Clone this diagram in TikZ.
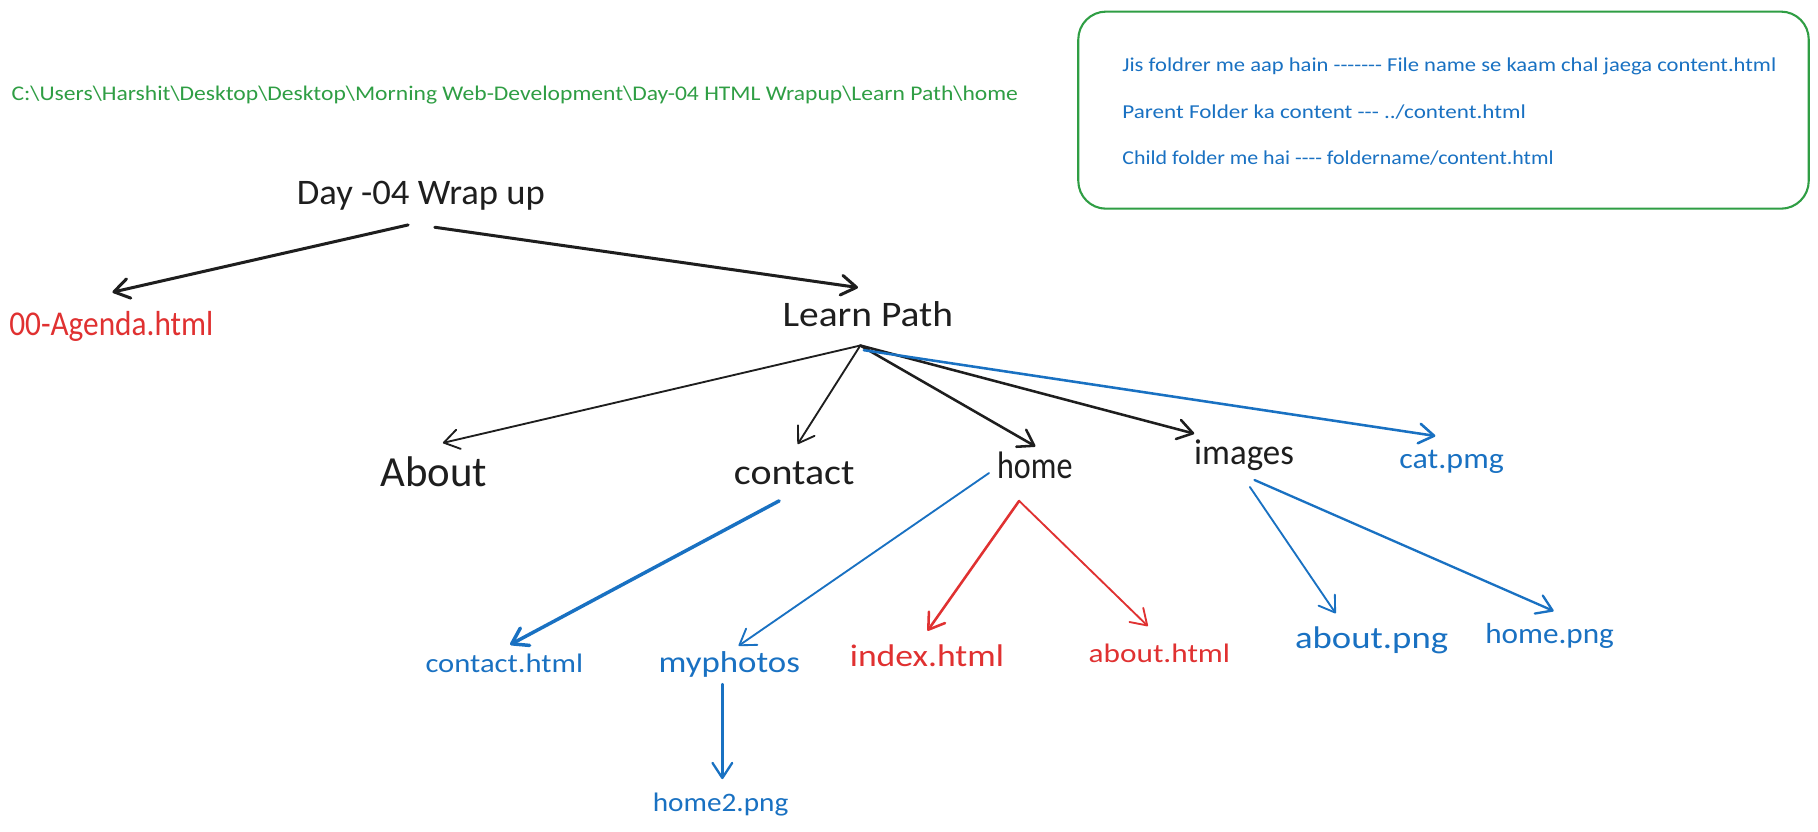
\documentclass[tikz,border=0pt]{standalone}
\usepackage{fontspec}
\setmainfont{Carlito}[Ligatures=TeXOff]
\usetikzlibrary{arrows.meta,calc}
\definecolor{exgreen}{HTML}{2F9E44}
\definecolor{exblue}{HTML}{1971C2}
\definecolor{exred}{HTML}{E03131}
\definecolor{exblack}{HTML}{1E1E1E}
% width in pt, font size in pt, text
\newcommand\fitwh[3]{\resizebox{#1pt}{\height}{\fontsize{#2}{#2}\selectfont #3}}
\tikzset{
  lbl/.style={anchor=base west, inner sep=0pt, outer sep=0pt},
  conn/.style={line cap=round, line join=round, -{Straight Barb[length=13pt,width=17pt,line cap=round,line join=round]}},
}
\begin{document}
\begin{tikzpicture}[x=1pt,y=-1pt]
\useasboundingbox[fill=white] (0,0) rectangle (1568,717);

% path text
\node[lbl, text=exgreen] (path) at (10,87) {\fitwh{868}{18}{C:\textbackslash Users\textbackslash Harshit\textbackslash Desktop\textbackslash Desktop\textbackslash Morning Web-Development\textbackslash Day-04 HTML Wrapup\textbackslash Learn Path\textbackslash home}};

% note box
\draw[exgreen, line width=1.8pt, rounded corners=24pt] (930,10) rectangle (1560,180);
\node[lbl, text=exblue] (l1) at (968,62) {\fitwh{564}{17}{Jis foldrer me aap hain ------- File name se kaam chal jaega content.html}};
\node[lbl, text=exblue] (l2) at (968,102) {\fitwh{348}{17}{Parent Folder ka content --- ../content.html}};
\node[lbl, text=exblue] (l3) at (968,142) {\fitwh{372}{17}{Child folder me hai ---- foldername/content.html}};

% tree nodes
\node[lbl, text=exblack] (day) at (256,176) {\fitwh{214}{31}{Day -04 Wrap up}};
\node[lbl, text=exred] (agenda) at (8,289) {\fitwh{176}{30}{00-Agenda.html}};
\node[lbl, text=exblack] (lp) at (675,282) {\fitwh{147}{31}{Learn Path}};
\node[lbl, text=exblack] (about) at (328,420) {\fitwh{92}{37}{About}};
\node[lbl, text=exblack] (contact) at (633,418) {\fitwh{104}{31}{contact}};
\node[lbl, text=exblack] (home) at (860,413) {\fitwh{65}{33}{home}};
\node[lbl, text=exblack] (images) at (1030,401) {\fitwh{86}{31}{images}};
\node[lbl, text=exblue] (cat) at (1207,404) {\fitwh{90}{25}{cat.pmg}};
\node[lbl, text=exblue] (chtml) at (367,580) {\fitwh{136}{23}{contact.html}};
\node[lbl, text=exblue] (myph) at (568,580) {\fitwh{122}{26}{myphotos}};
\node[lbl, text=exred] (idx) at (733,575) {\fitwh{133}{27}{index.html}};
\node[lbl, text=exred] (abh) at (939,571) {\fitwh{122}{23}{about.html}};
\node[lbl, text=exblue] (abpng) at (1117,559) {\fitwh{132}{27}{about.png}};
\node[lbl, text=exblue] (hpng) at (1281,555) {\fitwh{111}{25}{home.png}};
\node[lbl, text=exblue] (h2) at (563,700) {\fitwh{117}{23}{home2.png}};

% connectors
\draw[conn, exblack, line width=2.6pt] ($(day.base west)+(96,18)$) -- ($(agenda.base west)+(89,-37)$);
\draw[conn, exblack, line width=2.6pt] ($(day.base west)+(119,20)$) -- ($(lp.base west)+(65,-34)$);
\draw[conn, exblack, line width=1.6pt] ($(lp.base west)+(67,16)$) -- ($(about.base west)+(54,-38)$);
\draw[conn, exblack, line width=1.6pt] ($(lp.base west)+(67,16)$) -- ($(contact.base west)+(55,-35)$);
\draw[conn, exblack, line width=2.2pt] ($(lp.base west)+(67,16)$) -- ($(home.base west)+(33,-28)$);
\draw[conn, exblack, line width=2.2pt] ($(lp.base west)+(67,16)$) -- ($(images.base west)+(0,-27)$);
\draw[conn, exblue, line width=2.2pt] ($(lp.base west)+(70,20)$) -- ($(cat.base west)+(31,-28)$);
\draw[conn, exblue, line width=3pt] ($(contact.base west)+(39,14)$) -- ($(chtml.base west)+(73,-24)$);
\draw[conn, exblue, line width=1.6pt] ($(home.base west)+(-7,-5)$) -- ($(myph.base west)+(69,-23)$);
\draw[conn, exred, line width=2.2pt] ($(home.base west)+(19,19)$) -- ($(idx.base west)+(67,-31)$);
\draw[conn, exred, line width=1.6pt] ($(home.base west)+(19,19)$) -- ($(abh.base west)+(51,-31)$);
\draw[conn, exblue, line width=1.6pt] ($(images.base west)+(48,19)$) -- ($(abpng.base west)+(35,-30)$);
\draw[conn, exblue, line width=2pt] ($(images.base west)+(52,13)$) -- ($(hpng.base west)+(59,-28)$);
\draw[conn, exblue, line width=2pt] ($(myph.base west)+(55,10)$) -- ($(h2.base west)+(60,-28)$);
\end{tikzpicture}
\end{document}
